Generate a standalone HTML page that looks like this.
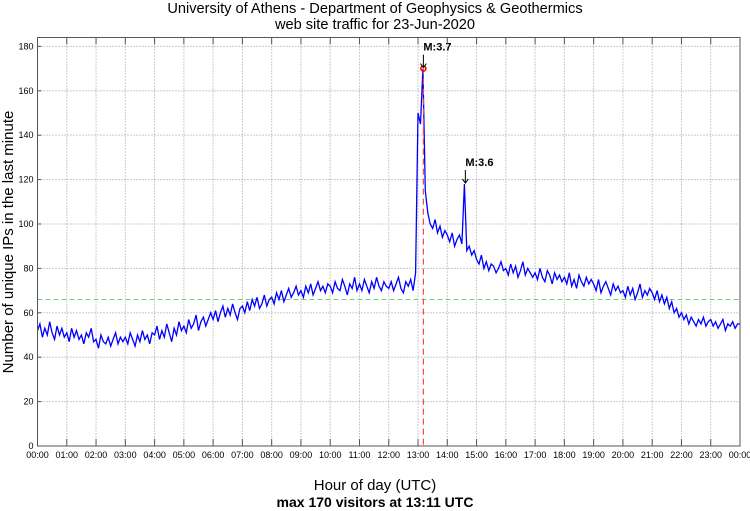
<!DOCTYPE html>
<html><head><meta charset="utf-8"><style>
body{margin:0;background:#fff;}
svg{display:block;font-family:"Liberation Sans",sans-serif;}
</style></head><body>
<svg id="c" width="750" height="511" viewBox="0 0 750 511">
<text x="375" y="13" text-anchor="middle" font-size="14.6">University of Athens - Department of Geophysics &amp; Geothermics</text>
<text x="375" y="29" text-anchor="middle" font-size="14.6">web site traffic for 23-Jun-2020</text>
<text transform="translate(13,242) rotate(-90)" text-anchor="middle" font-size="15">Number of unique IPs in the last minute</text>
<text x="375" y="490" text-anchor="middle" font-size="15">Hour of day (UTC)</text>
<text x="375" y="507" text-anchor="middle" font-size="14" font-weight="bold">max 170 visitors at 13:11 UTC</text>
<g id="grid"></g><g id="marks"></g><g id="axes"></g>
</svg>
<script>
const yTicks=[0,20,40,60,80,100,120,140,160,180];
const hourLabels=["00:00","01:00","02:00","03:00","04:00","05:00","06:00","07:00","08:00","09:00","10:00","11:00","12:00","13:00","14:00","15:00","16:00","17:00","18:00","19:00","20:00","21:00","22:00","23:00","00:00"];
const stepMinutes=5;
const visitors=[
52,55,49,53,50,56,51,48,54,50,53,49,
51,47,53,49,52,48,50,46,51,49,53,47,
48,44,50,47,46,49,45,48,51,46,49,47,
49,46,51,48,45,50,47,52,48,50,46,51,
50,54,48,52,49,55,51,47,53,50,56,52,
54,51,57,53,55,59,52,56,58,54,57,60,
57,61,56,60,63,58,62,59,64,60,57,62,
63,60,65,61,66,63,67,62,64,68,63,66,
67,64,69,66,70,65,68,71,67,69,72,68,
70,67,72,69,73,68,71,74,70,72,69,73,
72,69,74,71,70,75,72,68,73,71,76,70,
73,70,75,72,69,74,71,76,72,70,74,72,
71,74,70,73,76,71,69,74,72,75,70,78,
150,145,170,115,105,100,98,102,96,99,94,97,
95,92,96,90,93,95,91,118,88,90,86,88,
84,82,86,80,83,79,82,81,78,80,83,79,
80,77,82,78,81,76,79,83,77,80,78,76,
78,75,80,76,74,79,77,73,78,75,77,74,
76,73,78,72,75,71,77,74,72,76,73,75,
73,70,75,69,72,74,71,68,73,70,72,69,
70,67,72,68,71,66,69,73,67,70,68,71,
69,66,70,65,68,64,67,62,65,60,62,58,
60,57,59,55,58,56,54,57,55,58,54,56,
57,54,56,53,55,57,52,55,54,56,53,55,55];
const meanLevel=[66];
const peakEvent={minute:791,value:170,label:"M:3.7"};
const quake2={minute:877,value:118,label:"M:3.6"};

const L=37.5,R=740,T=37.5,B=446,yMax=184;
const xs=m=>L+(R-L)*m/1440;
const ys=v=>B-(B-T)*v/yMax;
const NS="http://www.w3.org/2000/svg";
function mk(tag,attrs,parent){const e=document.createElementNS(NS,tag);for(const k in attrs)e.setAttribute(k,attrs[k]);parent.appendChild(e);return e;}
const grid=document.getElementById('grid'),marks=document.getElementById('marks'),axes=document.getElementById('axes');

yTicks.forEach(v=>{
 if(v>0){const g=mk('line',{x1:L,x2:R,y1:ys(v),y2:ys(v),stroke:'#999','stroke-width':1,'stroke-dasharray':'1,2'},grid);
 
 }
 const t=mk('text',{x:L-4,y:ys(v)+3,'text-anchor':'end','font-size':9},axes);t.textContent=v;
 
 
 mk('line',{x1:L,x2:L+4,y1:ys(v),y2:ys(v),stroke:'#555'},axes);
});
hourLabels.forEach((lab,i)=>{
 const x=xs(i*60);
 if(i>0&&i<24){const g=mk('line',{x1:x,x2:x,y1:T,y2:B,stroke:'#999','stroke-width':1,'stroke-dasharray':'1,2'},grid);
 
 }
 mk('line',{x1:x,x2:x,y1:B,y2:B-7,stroke:'#555'},axes);
 mk('line',{x1:x,x2:x,y1:T,y2:T+7,stroke:'#555'},axes);
 const t=mk('text',{x:x,y:B+12,'text-anchor':'middle','font-size':9},axes);t.textContent=lab;
 
 
});
const frame=mk('rect',{x:L,y:T,width:R-L,height:B-T,fill:'none',stroke:'#555','stroke-width':1},axes);



const mean=mk('line',{x1:L,x2:R,y1:ys(meanLevel[0]),y2:ys(meanLevel[0]),stroke:'#7c7','stroke-width':1,'stroke-dasharray':'5,3'},marks);



let d='';
visitors.forEach((v,i)=>{d+=(i?'L':'M')+xs(i*stepMinutes).toFixed(1)+','+ys(v).toFixed(1);});
const line=mk('path',{d:d,fill:'none',stroke:'#00f','stroke-width':1.3},marks);



const px=xs(peakEvent.minute),py=ys(peakEvent.value);
const vl=mk('line',{x1:px,x2:px,y1:py,y2:B,stroke:'#f44','stroke-width':1.2,'stroke-dasharray':'6,4'},marks);


const pc=mk('circle',{cx:px,cy:py,r:2.5,fill:'none',stroke:'#e00','stroke-width':1.5},marks);



[peakEvent,quake2].forEach(q=>{
 const x=xs(q.minute),y=ys(q.value);
 const a=mk('path',{d:`M${x},${y-14}V${y-1}M${x-3},${y-5}L${x},${y-1}L${x+3},${y-5}`,stroke:'#000',fill:'none','stroke-width':1},marks);
 
 
 const t=mk('text',{x:x,y:y-18,'font-size':11,'font-weight':'bold'},marks);t.textContent=q.label;
 
 
});
</script>
</body></html>
